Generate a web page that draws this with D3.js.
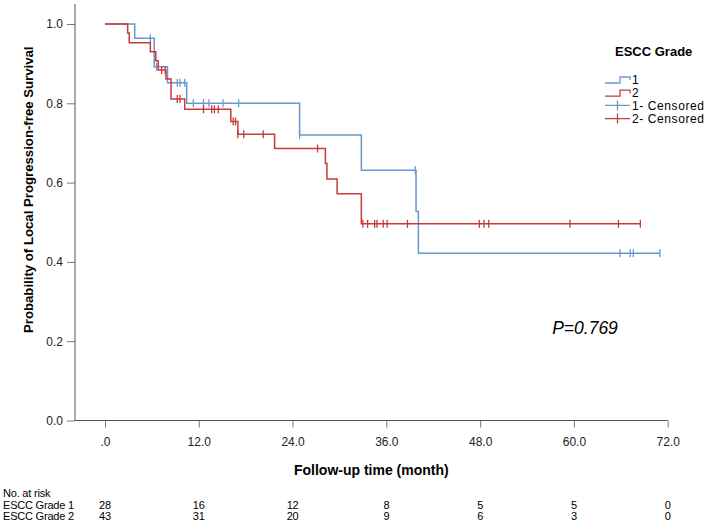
<!DOCTYPE html>
<meta charset="utf-8">
<title>ESCC grade KM</title>
<body>
<script src="https://cdn.jsdelivr.net/npm/d3@7"></script>
<style>
html, body {
    margin: 0;
    background: #fff;
}
svg {
    display: block;
    font-family: "Liberation Sans", Arial, sans-serif;
}
</style>
<script>
// survival steps: [month, survival after the step]
var grade1Steps = [[0, 1], [3.8, 0.964], [6.3, 0.892], [8.0, 0.852], [10.45, 0.800],
    [24.9, 0.720], [32.8, 0.631], [39.8, 0.527], [40.1, 0.422]];
var grade1Censor = [5.8, 6.6, 9.25, 9.6, 10.2, 11.3, 12.6, 13.3, 15.1, 17.1, 24.9,
    39.7, 65.9, 67.2, 67.6, 71.0];

var grade2Steps = [[0, 1], [2.9, 0.977], [3.1, 0.953], [5.8, 0.930], [6.5, 0.907],
    [6.8, 0.884], [7.8, 0.861], [8.45, 0.811], [10.2, 0.785], [16.1, 0.754],
    [17.0, 0.722], [21.7, 0.686], [28.2, 0.648], [28.4, 0.609], [29.7, 0.572],
    [32.8, 0.496]];
var grade2Censor = [7.25, 7.7, 9.25, 9.6, 12.6, 13.65, 14.0, 14.5, 16.4, 16.7, 17.0,
    17.75, 20.25, 27.2, 33.0, 33.6, 34.5, 34.8, 35.6, 36.1, 38.7, 47.9, 48.5, 49.1,
    59.5, 65.7, 68.5];

var xTicks = [0, 12, 24, 36, 48, 60, 72],
    xTickLabels = [".0", "12.0", "24.0", "36.0", "48.0", "60.0", "72.0"],
    yTicks = [0, 0.2, 0.4, 0.6, 0.8, 1.0];

var riskTimes = [0, 12, 24, 36, 48, 60, 72],
    riskGrade1 = [28, 16, 12, 8, 5, 5, 0],
    riskGrade2 = [43, 31, 20, 9, 6, 3, 0];

var groups = ["1", "2"],
    colors = ["#6898cd", "#c83a3c"];

var width = 709,
    height = 524;

var svg = d3.select("body").append("svg")
    .attr("width", width)
    .attr("height", height);

var x = d3.scaleLinear().domain([0, 72]).range([105, 667.7]),
    y = d3.scaleLinear().domain([0, 1]).range([420.5, 24]);

// axes
var yAxis = svg.append("g")
    .attr("transform", "translate(75,0)")
    .call(d3.axisLeft(y).tickValues(yTicks).tickFormat(d3.format(".1f")).tickSize(8).tickPadding(4));
yAxis.select(".domain").remove();
yAxis.selectAll(".tick line").attr("stroke", "#777");
yAxis.selectAll("text").attr("font-size", 12).attr("fill", "#222").attr("font-family", null);

svg.append("line")
    .attr("x1", 75).attr("x2", 75)
    .attr("y1", 4).attr("y2", y(0))
    .attr("stroke", "#555");

var xAxis = svg.append("g")
    .attr("transform", "translate(0," + y(0) + ")")
    .call(d3.axisBottom(x).tickValues(xTicks)
        .tickFormat(function(d, i) { return xTickLabels[i]; })
        .tickSize(7).tickPadding(10));
xAxis.select(".domain").remove();
xAxis.selectAll(".tick line").attr("stroke", "#777");
xAxis.selectAll("text").attr("font-size", 12).attr("fill", "#222").attr("font-family", null);

svg.append("line")
    .attr("x1", 75).attr("x2", x(72))
    .attr("y1", y(0)).attr("y2", y(0))
    .attr("stroke", "#555");

svg.append("text")
    .attr("x", (75 + x(72)) / 2)
    .attr("y", 475)
    .attr("text-anchor", "middle")
    .attr("font-size", 14)
    .attr("font-weight", "bold")
    .text("Follow-up time (month)");

svg.append("text")
    .attr("transform", "translate(33,333) rotate(-90)")
    .attr("font-size", 13.2)
    .attr("font-weight", "bold")
    .text("Probability of Local Progression-free Survival");

// curves
function survAt(steps, t) {
    var s = 1;
    steps.forEach(function(p) { if (p[0] <= t) s = p[1]; });
    return s;
}

function stepPoints(steps, end) {
    var pts = steps.map(function(p) { return [p[0], p[1]]; });
    pts.push([end, steps[steps.length - 1][1]]);
    return pts;
}

var line = d3.line()
    .x(function(d) { return x(d[0]); })
    .y(function(d) { return y(d[1]); })
    .curve(d3.curveStepAfter);

var series = [
    { steps: grade1Steps, censor: grade1Censor, color: colors[0] },
    { steps: grade2Steps, censor: grade2Censor, color: colors[1] }
];

series.forEach(function(s) {
    var end = d3.max(s.censor);
    svg.append("path")
        .datum(stepPoints(s.steps, end))
        .attr("fill", "none")
        .attr("stroke", s.color)
        .attr("stroke-width", 1.5)
        .attr("d", line);

    svg.append("g").selectAll("line")
        .data(s.censor)
        .enter().append("line")
        .attr("x1", function(d) { return x(d); })
        .attr("x2", function(d) { return x(d); })
        .attr("y1", function(d) { return y(survAt(s.steps, d)) - 4; })
        .attr("y2", function(d) { return y(survAt(s.steps, d)) + 4; })
        .attr("stroke", s.color)
        .attr("stroke-width", 1.3);
});

// legend
var legend = svg.append("g");
legend.append("text")
    .attr("x", 615).attr("y", 56)
    .attr("font-size", 13)
    .attr("font-weight", "bold")
    .text("ESCC Grade");

var legendItems = [
    { label: groups[0], color: colors[0], type: "step" },
    { label: groups[1], color: colors[1], type: "step" },
    { label: groups[0] + "- Censored", color: colors[0], type: "censor" },
    { label: groups[1] + "- Censored", color: colors[1], type: "censor" }
];

legendItems.forEach(function(d, i) {
    var cy = 79 + i * 13.2;
    if (d.type == "step") {
        legend.append("path")
            .attr("d", "M605," + (cy + 4) + "H620V" + (cy - 2) + "H630V" + (cy + 1))
            .attr("fill", "none")
            .attr("stroke", d.color)
            .attr("stroke-width", 1.3);
    } else {
        legend.append("path")
            .attr("d", "M605," + cy + "H630M617.5," + (cy - 5) + "V" + (cy + 5))
            .attr("fill", "none")
            .attr("stroke", d.color)
            .attr("stroke-width", 1.3);
    }
    legend.append("text")
        .attr("x", 632).attr("y", cy + 4.5)
        .attr("font-size", 12)
        .attr("letter-spacing", "0.6px")
        .text(d.label);
});

svg.append("text")
    .attr("x", 585).attr("y", 334)
    .attr("text-anchor", "middle")
    .attr("font-size", 17.5)
    .attr("font-style", "italic")
    .text("P=0.769");

// numbers at risk
var risk = svg.append("g")
    .attr("font-size", 11)
    .attr("letter-spacing", "-0.2px");
risk.append("text").attr("x", 3).attr("y", 497).text("No. at risk");
[["ESCC Grade 1", riskGrade1, 508.5], ["ESCC Grade 2", riskGrade2, 520]].forEach(function(r) {
    risk.append("text").attr("x", 3).attr("y", r[2]).text(r[0]);
    risk.selectAll(null)
        .data(r[1])
        .enter().append("text")
        .attr("x", function(d, i) { return x(riskTimes[i]); })
        .attr("y", r[2])
        .attr("text-anchor", "middle")
        .text(function(d) { return d; });
});
</script>
